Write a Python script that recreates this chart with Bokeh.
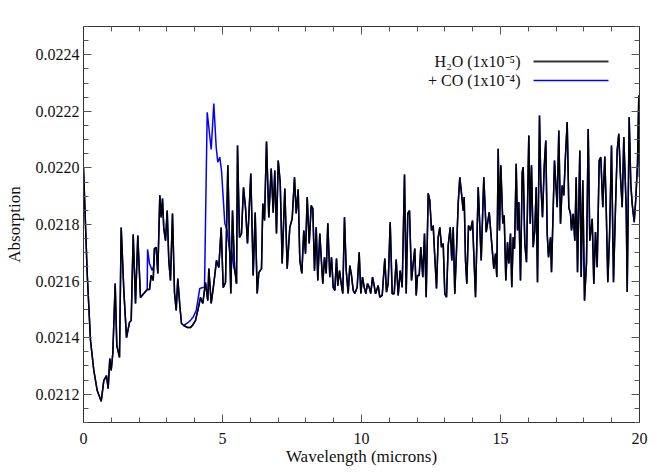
from bokeh.plotting import figure
from bokeh.models import (Range1d, LinearAxis, FixedTicker, NumeralTickFormatter,
                          CustomJSTickFormatter, Label, Arrow)
from bokeh.embed import file_html
from bokeh.resources import INLINE

# ---------------- data ----------------
h2o_wavelength = [
    0.000, 0.133, 0.252, 0.371, 0.493, 0.637, 0.730, 0.827, 0.888, 0.946,
    0.996, 1.054, 1.140, 1.198, 1.295, 1.356, 1.450, 1.547, 1.655, 1.716,
    1.788, 1.871, 1.953, 2.050, 2.169, 2.291, 2.374, 2.435, 2.507, 2.554,
    2.615, 2.673, 2.745, 2.795, 2.842, 2.888, 2.950, 3.011, 3.068, 3.129,
    3.201, 3.273, 3.335, 3.392, 3.464, 3.525, 3.608, 3.730, 3.849, 3.939,
    4.029, 4.126, 4.209, 4.291, 4.388, 4.471, 4.507, 4.594, 4.687, 4.784,
    4.867, 4.953, 5.025, 5.108, 5.191, 5.263, 5.299, 5.360, 5.432, 5.504,
    5.540, 5.612, 5.683, 5.755, 5.827, 5.899, 5.946, 6.018, 6.104, 6.176,
    6.248, 6.306, 6.403, 6.450, 6.511, 6.583, 6.665, 6.752, 6.824, 6.881,
    6.942, 7.004, 7.076, 7.147, 7.241, 7.327, 7.421, 7.507, 7.590, 7.651,
    7.723, 7.781, 7.853, 7.924, 7.986, 8.047, 8.119, 8.191, 8.248, 8.309,
    8.371, 8.428, 8.500, 8.550, 8.608, 8.669, 8.730, 8.788, 8.860, 8.921,
    8.982, 9.040, 9.101, 9.147, 9.209, 9.270, 9.327, 9.388, 9.450, 9.522,
    9.579, 9.640, 9.701, 9.759, 9.845, 9.917, 9.975, 10.036, 10.097, 10.155,
    10.216, 10.277, 10.334, 10.396, 10.457, 10.504, 10.601, 10.658, 10.745, 10.838,
    10.899, 10.960, 11.032, 11.104, 11.176, 11.248, 11.320, 11.392, 11.464, 11.547,
    11.608, 11.665, 11.727, 11.799, 11.860, 11.917, 11.968, 12.014, 12.076, 12.133,
    12.205, 12.266, 12.327, 12.399, 12.457, 12.518, 12.579, 12.637, 12.698, 12.759,
    12.817, 12.878, 12.939, 12.996, 13.058, 13.119, 13.191, 13.248, 13.299, 13.356,
    13.417, 13.478, 13.536, 13.597, 13.658, 13.694, 13.741, 13.788, 13.849, 13.921,
    13.993, 14.101, 14.198, 14.306, 14.399, 14.486, 14.594, 14.676, 14.759, 14.820,
    14.867, 14.917, 14.964, 15.011, 15.083, 15.133, 15.191, 15.252, 15.299, 15.360,
    15.406, 15.457, 15.504, 15.565, 15.612, 15.658, 15.719, 15.781, 15.817, 15.874,
    15.935, 16.018, 16.068, 16.115, 16.176, 16.234, 16.284, 16.331, 16.403, 16.450,
    16.511, 16.572, 16.629, 16.680, 16.727, 16.799, 16.835, 16.942, 17.040, 17.097,
    17.158, 17.219, 17.277, 17.338, 17.399, 17.457, 17.518, 17.554, 17.615, 17.673,
    17.723, 17.770, 17.853, 17.903, 17.960, 18.022, 18.094, 18.155, 18.212, 18.299,
    18.356, 18.417, 18.478, 18.550, 18.608, 18.680, 18.752, 18.802, 18.860, 18.921,
    18.993, 19.065, 19.137, 19.198, 19.255, 19.317, 19.378, 19.435, 19.522, 19.558,
    19.629, 19.687, 19.737, 19.809, 19.867, 19.928, 19.975, 20.000,
]

h2o_absorption = [
    0.022001, 0.021627, 0.021390, 0.021284, 0.021213, 0.021175, 0.021248, 0.021266, 0.021220, 0.021326,
    0.021284, 0.021344, 0.021591, 0.021372, 0.021330, 0.021789, 0.021567, 0.021400, 0.021454, 0.021461,
    0.021765, 0.021521, 0.021761, 0.021542, 0.021556, 0.021570, 0.021570, 0.021620, 0.021602, 0.021715,
    0.021719, 0.021627, 0.021903, 0.021825, 0.021892, 0.021786, 0.021743, 0.021849, 0.021673, 0.021602,
    0.021839, 0.021560, 0.021496, 0.021609, 0.021514, 0.021450, 0.021443, 0.021436, 0.021436, 0.021446,
    0.021461, 0.021503, 0.021542, 0.021521, 0.021595, 0.021531, 0.021644, 0.021521, 0.021591, 0.021673,
    0.021648, 0.021789, 0.021577, 0.021595, 0.022009, 0.021697, 0.021556, 0.021849, 0.021648, 0.021591,
    0.022079, 0.021754, 0.021768, 0.021931, 0.021860, 0.021733, 0.021825, 0.021980, 0.021620, 0.021842,
    0.021556, 0.021630, 0.021644, 0.021874, 0.021814, 0.022093, 0.021825, 0.021998, 0.021842, 0.021991,
    0.021768, 0.022026, 0.021948, 0.021662, 0.021927, 0.021644, 0.021790, 0.021821, 0.021967, 0.021839,
    0.021924, 0.021673, 0.021627, 0.021779, 0.021697, 0.021897, 0.021733, 0.021867, 0.021857, 0.021637,
    0.021790, 0.021602, 0.021768, 0.021684, 0.021591, 0.021684, 0.021627, 0.021804, 0.021614, 0.021684,
    0.021578, 0.021567, 0.021680, 0.021584, 0.021637, 0.021591, 0.021556, 0.021826, 0.021637, 0.021556,
    0.021655, 0.021620, 0.021567, 0.021556, 0.021578, 0.021702, 0.021556, 0.021614, 0.021578, 0.021556,
    0.021591, 0.021578, 0.021556, 0.021614, 0.021584, 0.021555, 0.021584, 0.021543, 0.021549, 0.021680,
    0.021561, 0.021591, 0.021808, 0.021555, 0.021555, 0.021676, 0.021549, 0.021637, 0.021578, 0.021977,
    0.021556, 0.021839, 0.021849, 0.021602, 0.021662, 0.021715, 0.021549, 0.021620, 0.021620, 0.021720,
    0.021614, 0.021768, 0.021543, 0.021910, 0.021885, 0.021779, 0.021796, 0.021684, 0.021574, 0.021755,
    0.021790, 0.021720, 0.021733, 0.021555, 0.021543, 0.021726, 0.021790, 0.021673, 0.021790, 0.021555,
    0.021708, 0.021874, 0.021967, 0.021910, 0.021849, 0.021897, 0.021673, 0.021591, 0.021796, 0.021779,
    0.021814, 0.021543, 0.021932, 0.021673, 0.021967, 0.021773, 0.021843, 0.021743, 0.021644, 0.021697,
    0.021614, 0.022068, 0.021779, 0.022009, 0.021804, 0.021832, 0.021602, 0.021737, 0.021662, 0.021768,
    0.021578, 0.021755, 0.021714, 0.022015, 0.021779, 0.021879, 0.021602, 0.021985, 0.022003, 0.021732,
    0.021667, 0.022115, 0.021803, 0.022009, 0.021720, 0.021779, 0.021932, 0.021596, 0.022185, 0.021944,
    0.021826, 0.022003, 0.022097, 0.021767, 0.021684, 0.021755, 0.021631, 0.022026, 0.021861, 0.022132,
    0.021803, 0.021938, 0.021903, 0.022044, 0.022162, 0.021861, 0.021838, 0.021779, 0.021838, 0.021743,
    0.021967, 0.021631, 0.022062, 0.021614, 0.021956, 0.021531, 0.021667, 0.022138, 0.021743, 0.021820,
    0.021590, 0.021773, 0.021649, 0.022026, 0.022038, 0.021861, 0.022040, 0.021861, 0.021596, 0.021755,
    0.022079, 0.021596, 0.021861, 0.022062, 0.022121, 0.021967, 0.021861, 0.022109, 0.021856, 0.021561,
    0.022179, 0.021944, 0.021873, 0.021808, 0.021891, 0.022015, 0.022256, 0.021967,
]

# "+ CO" spectrum where it departs from the H2O-only one (identical elsewhere)
co_band1_wavelength = [2.291, 2.305, 2.374, 2.471, 2.536, 2.554]
co_band1_absorption = [0.021570, 0.021712, 0.021662, 0.021637, 0.021659, 0.021715]

co_band2_wavelength = [3.608, 3.730, 3.849, 3.957, 4.054, 4.112, 4.183, 4.291, 4.353, 4.450,
                       4.594, 4.687, 4.773, 4.831, 4.903, 4.964, 5.083, 5.167, 5.263, 5.324,
                       5.406, 5.493, 5.504]
co_band2_absorption = [0.021443, 0.021451, 0.021461, 0.021475, 0.021496, 0.021531, 0.021574,
                       0.021577, 0.021577, 0.022197, 0.022065, 0.022228, 0.022073, 0.022020,
                       0.022038, 0.021991, 0.021804, 0.021779, 0.021697, 0.021708, 0.021649,
                       0.021620, 0.021591]

x_major_ticks = [0, 5, 10, 15, 20]
x_minor_ticks = list(range(0, 21))
y_major_ticks = [0.0212, 0.0214, 0.0216, 0.0218, 0.0220, 0.0222, 0.0224]
y_minor_ticks = [0.02110, 0.02115, 0.02120, 0.02125, 0.02130, 0.02135, 0.02140, 0.02145,
                 0.02150, 0.02155, 0.02160, 0.02165, 0.02170, 0.02175, 0.02180, 0.02185,
                 0.02190, 0.02195, 0.02200, 0.02205, 0.02210, 0.02215, 0.02220, 0.02225,
                 0.02230, 0.02235, 0.02240, 0.02245, 0.02250]

legend_labels = ["H\u2082O (1x10\u207b\u2075)", "+ CO (1x10\u207b\u2074)"]
x_label = "Wavelength (microns)"
y_label = "Absorption"

# ---------------- figure ----------------
FONT = "Liberation Serif"
BLACK = "#000000"
BLUE = "#0000ff"

p = figure(width=664, height=475, output_backend="svg", toolbar_location=None,
           x_range=Range1d(0, 20), y_range=Range1d(0.0211, 0.0225),
           x_axis_location=None, y_axis_location=None,
           min_border_left=83, min_border_right=25, min_border_top=26, min_border_bottom=53)
p.grid.grid_line_color = None
p.outline_line_color = "#333333"
p.outline_line_width = 1
p.background_fill_color = "white"
p.border_fill_color = "white"


def style_axis(ax, labelled):
    ax.axis_line_color = "#333333"
    ax.major_tick_in = 8
    ax.major_tick_out = 0
    ax.minor_tick_in = 5
    ax.minor_tick_out = 0
    ax.major_tick_line_color = "#555555"
    ax.minor_tick_line_color = "#555555"
    ax.major_label_text_font = FONT
    ax.major_label_text_font_size = "16px"
    ax.major_label_text_color = "#111111"
    ax.axis_label_text_font = FONT
    ax.axis_label_text_font_size = "17px"
    ax.axis_label_text_font_style = "normal"
    ax.axis_label_text_color = "#111111"
    if not labelled:
        ax.formatter = CustomJSTickFormatter(code="return ''")
        ax.major_label_standoff = 0


xticker = FixedTicker(ticks=x_major_ticks, minor_ticks=x_minor_ticks)
yticker = FixedTicker(ticks=y_major_ticks, minor_ticks=y_minor_ticks)

bottom = LinearAxis(ticker=xticker, formatter=NumeralTickFormatter(format="0"), axis_label=x_label)
style_axis(bottom, True)
bottom.major_label_standoff = 10
bottom.axis_label_standoff = 0
p.add_layout(bottom, "below")

left = LinearAxis(ticker=yticker, formatter=NumeralTickFormatter(format="0.0000"), axis_label=y_label)
style_axis(left, True)
left.major_label_standoff = 4
left.axis_label_standoff = 9
p.add_layout(left, "left")

top = LinearAxis(ticker=xticker)
style_axis(top, False)
p.add_layout(top, "above")

right = LinearAxis(ticker=yticker)
style_axis(right, False)
p.add_layout(right, "right")

# blue (+CO) drawn first, black (H2O) drawn on top
p.line(h2o_wavelength, h2o_absorption, line_color=BLUE, line_width=1.5)
p.line(co_band1_wavelength, co_band1_absorption, line_color=BLUE, line_width=1.5)
p.line(co_band2_wavelength, co_band2_absorption, line_color=BLUE, line_width=1.5)
p.line(h2o_wavelength, h2o_absorption, line_color=BLACK, line_width=1.5)

# legend (text left of the line sample, top right)
legend_colors = ["#333333", BLUE]
legend_y = [361, 342]
for lab, col, yy in zip(legend_labels, legend_colors, legend_y):
    p.add_layout(Label(x=437, y=yy, x_units="screen", y_units="screen", text=lab,
                       text_align="right", text_baseline="middle",
                       text_font=FONT, text_font_size="16px", text_color="#111111"))
    p.add_layout(Arrow(start=None, end=None, x_start=450, y_start=yy, x_end=525, y_end=yy,
                       start_units="screen", end_units="screen",
                       line_color=col, line_width=2 if col != BLUE else 1.5))

open("out.html", "w").write(file_html(p, INLINE))
